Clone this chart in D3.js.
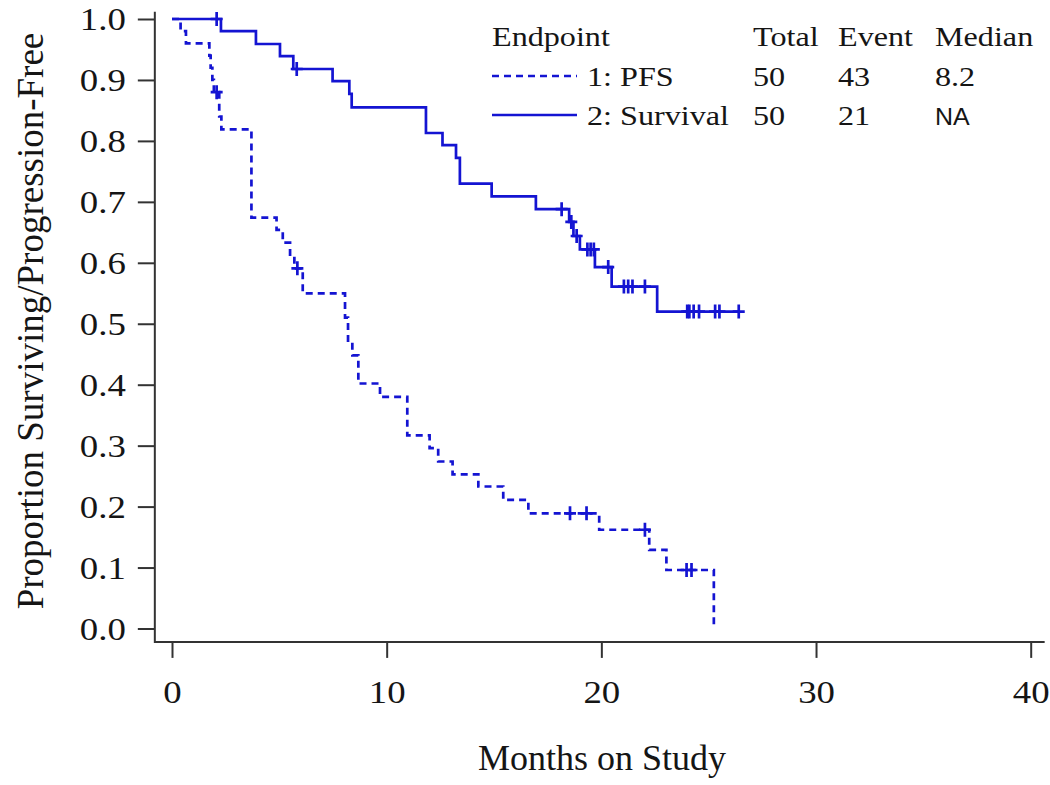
<!DOCTYPE html>
<html><head><meta charset="utf-8">
<script src="https://cdn.jsdelivr.net/npm/d3@7"></script>
<style>html,body{margin:0;padding:0;background:#fff;}svg{display:block;}</style>
</head><body>
<div id="chart"></div>
<script>
// ---- data ----
const xTicks = [0, 10, 20, 30, 40];
const yTicks = [0, 0.1, 0.2, 0.3, 0.4, 0.5, 0.6, 0.7, 0.8, 0.9, 1.0];

// Overall survival (solid): step times and survival after each step
const survTimes = [0, 2.28, 3.91, 5.03, 5.65, 7.48, 8.26, 8.37, 11.83, 12.6, 13.23, 13.41, 14.89, 16.95, 18.5, 18.7, 19.0, 19.7, 20.48, 22.6, 26.45];
const survVals  = [1.0, 0.980, 0.959, 0.939, 0.918, 0.898, 0.877, 0.855, 0.813, 0.793, 0.772, 0.730, 0.709, 0.688, 0.667, 0.644, 0.622, 0.593, 0.561, 0.520, 0.520];
const survCensor = [2.08, 5.81, 18.15, 18.6, 18.85, 19.35, 19.5, 19.65, 20.32, 21.05, 21.25, 21.45, 22.03, 24.0, 24.1, 24.3, 24.55, 25.3, 25.5, 26.4];

// Progression-free survival (dashed)
const pfsTimes = [0, 0.4, 0.65, 1.74, 1.8, 1.88, 1.95, 2.2, 2.3, 3.7, 4.87, 5.16, 5.5, 5.7, 6.09, 8.06, 8.2, 8.4, 8.68, 9.69, 10.96, 12.0, 12.4, 13.07, 14.27, 15.43, 16.6, 19.9, 22.23, 23.03, 25.24];
const pfsVals  = [1.0, 0.98, 0.96, 0.94, 0.92, 0.90, 0.88, 0.84, 0.819, 0.674, 0.654, 0.633, 0.611, 0.591, 0.55, 0.51, 0.469, 0.448, 0.402, 0.380, 0.317, 0.296, 0.274, 0.253, 0.233, 0.211, 0.189, 0.162, 0.129, 0.096, 0.0];
const pfsCensor = [2.08, 5.84, 18.54, 19.31, 22.03, 23.97, 24.2];

const legendHeader = ["Endpoint", "Total", "Event", "Median"];
const legendNames  = ["1: PFS", "2: Survival"];
const legendTotal  = ["50", "50"];
const legendEvent  = ["43", "21"];
const legendMedian = ["8.2", "NA"];

// ---- drawing ----
const W = 1050, H = 785;
const BLUE = "#1414d2", AX = "#333", INK = "#151515";
const SERIF = "'Liberation Serif','Times New Roman',serif";
const SANS = "'Liberation Sans',Arial,sans-serif";

const svg = d3.select("#chart").append("svg").attr("width", W).attr("height", H);

const x = d3.scaleLinear().domain([0, 40]).range([172, 1030.7]);
const y = d3.scaleLinear().domain([0, 1]).range([628.5, 19]);

function txt(s, px, py, size, anchor, family, sx, rot) {
  svg.append("text")
    .attr("transform", `translate(${px},${py})` + (rot ? ` rotate(${rot})` : ` scale(${sx || 1},1)`))
    .attr("text-anchor", anchor || "start")
    .attr("font-family", family || SERIF)
    .attr("font-size", size)
    .attr("fill", INK)
    .text(s);
}

// axis frame (L-shape)
svg.append("path")
  .attr("d", `M${x(-0.8)},${y(1.012)}V${y(-0.022)}H${x(40.65)}`)
  .attr("fill", "none").attr("stroke", AX).attr("stroke-width", 2);

// y axis
const gy = svg.append("g").attr("transform", `translate(${x(-0.8)},0)`)
  .call(d3.axisLeft(y).tickValues(yTicks).tickSize(17).tickFormat(d3.format(".1f")));
gy.select(".domain").remove();
gy.selectAll(".tick line").attr("stroke", AX).attr("stroke-width", 2);
gy.selectAll(".tick text")
  .attr("x", null).attr("dy", "0.34em")
  .attr("transform", `translate(-29,0) scale(1.15,1)`)
  .attr("font-family", SERIF).attr("font-size", 32).attr("fill", INK);

// x axis
const gx = svg.append("g").attr("transform", `translate(0,${y(-0.022)})`)
  .call(d3.axisBottom(x).tickValues(xTicks).tickSize(16).tickFormat(d3.format("d")));
gx.select(".domain").remove();
gx.selectAll(".tick line").attr("stroke", AX).attr("stroke-width", 2);
gx.selectAll(".tick text")
  .attr("y", null).attr("dy", null)
  .attr("transform", `translate(0,61) scale(1.15,1)`)
  .attr("font-family", SERIF).attr("font-size", 32).attr("fill", INK);

// axis titles
txt("Months on Study", 602, 770, 36, "middle", SERIF, 1.0);
txt("Proportion Surviving/Progression-Free", 43, 321, 37, "middle", SERIF, 1, -90);

// curves
const line = d3.line().x(d => x(d[0])).y(d => y(d[1])).curve(d3.curveStepAfter);
const survPts = survTimes.map((t, i) => [t, survVals[i]]);
const pfsPts = pfsTimes.map((t, i) => [t, pfsVals[i]]);

svg.append("path").attr("d", line(pfsPts)).attr("fill", "none")
  .attr("stroke", BLUE).attr("stroke-width", 2.7).attr("stroke-dasharray", "7,5");
svg.append("path").attr("d", line(survPts)).attr("fill", "none")
  .attr("stroke", BLUE).attr("stroke-width", 2.7);

function stepVal(times, vals, t) {
  let v = vals[0];
  for (let i = 0; i < times.length; i++) if (times[i] <= t) v = vals[i];
  return v;
}
function censorMarks(cs, times, vals) {
  svg.append("g").selectAll("path").data(cs).join("path")
    .attr("d", t => { const cx = x(t), cy = y(stepVal(times, vals, t)); return `M${cx-6},${cy}H${cx+6}M${cx},${cy-7}V${cy+7}`; })
    .attr("stroke", BLUE).attr("stroke-width", 2.7).attr("fill", "none");
}
censorMarks(survCensor, survTimes, survVals);
censorMarks(pfsCensor, pfsTimes, pfsVals);

// legend
const colX = [492, 753, 838, 935];
const rowY = [46, 86, 125];
const LS = 27.5, LSX = 1.17;
legendHeader.forEach((h, i) => txt(h, colX[i], rowY[0], LS, "start", SERIF, LSX));
legendNames.forEach((n, i) => {
  const ly = rowY[i + 1] - 10;
  svg.append("line").attr("x1", 492).attr("x2", 577).attr("y1", ly).attr("y2", ly)
    .attr("stroke", BLUE).attr("stroke-width", 2.7)
    .attr("stroke-dasharray", i === 0 ? "7,5" : null);
  txt(n, 587, rowY[i + 1], LS, "start", SERIF, LSX);
  txt(legendTotal[i], colX[1], rowY[i + 1], LS, "start", SERIF, LSX);
  txt(legendEvent[i], colX[2], rowY[i + 1], LS, "start", SERIF, LSX);
  const med = legendMedian[i];
  if (med === "NA") txt(med, colX[3], rowY[i + 1], 24.5, "start", SANS, 1.02);
  else txt(med, colX[3], rowY[i + 1], LS, "start", SERIF, LSX);
});
</script>
</body></html>
